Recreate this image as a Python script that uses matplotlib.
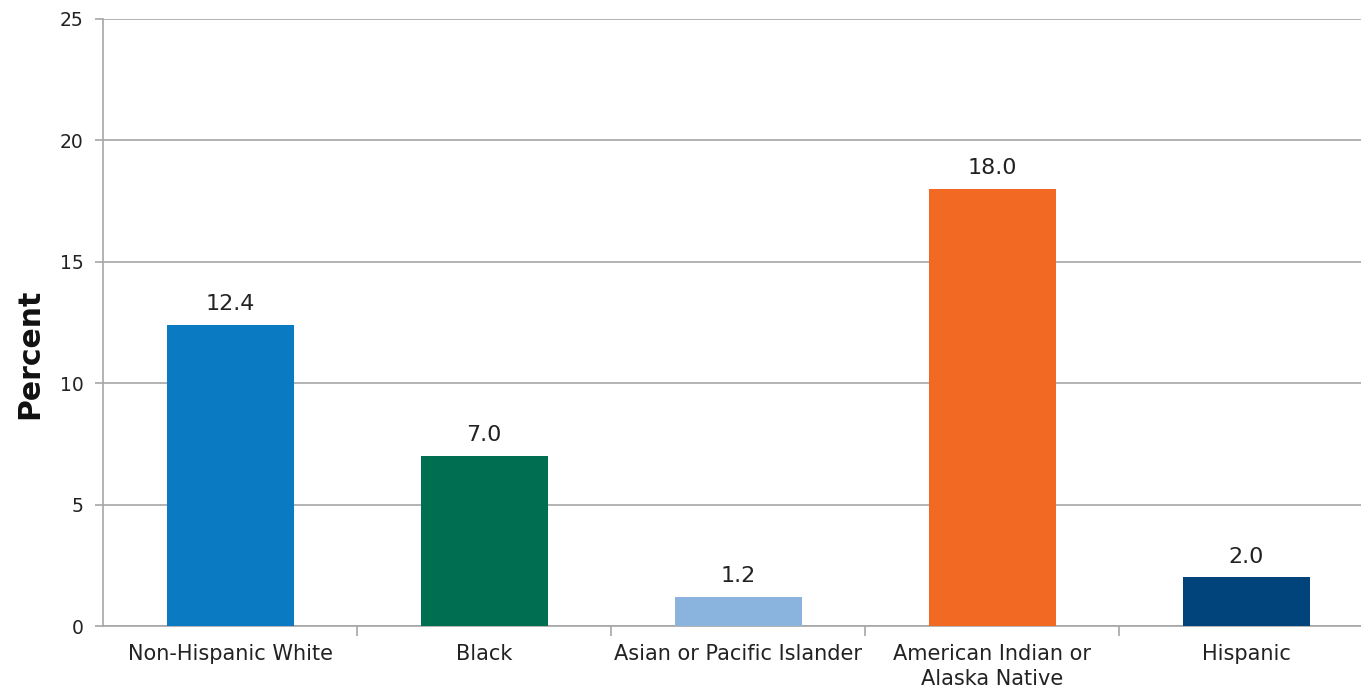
import numpy as np
import matplotlib
matplotlib.use("Agg")
import matplotlib.pyplot as plt

categories = ["Non-Hispanic White", "Black", "Asian or Pacific Islander",
              "American Indian or\nAlaska Native", "Hispanic"]
values = [12.4, 7.0, 1.2, 18.0, 2.0]
colors = ["#0A7BC2", "#006F51", "#8AB3DE", "#F26924", "#00447B"]
y_ticks = [0, 5, 10, 15, 20, 25]

plt.rcParams["font.family"] = ["DejaVu Sans"]

fig = plt.figure(figsize=(13.61, 6.89), dpi=100)
ax = fig.add_axes([103 / 1361, 1 - 626 / 689, 1 - 103 / 1361, (626 - 19) / 689])

x = np.arange(len(categories))
ax.bar(x, values, width=0.5, color=colors, zorder=3)
for xi, v in zip(x, values):
    ax.text(xi, v + 0.45, f"{v:.1f}", ha="center", va="bottom",
            fontsize=16, color="#222222", zorder=4)

ax.set_ylim(0, 25)
ax.set_xlim(-0.5, -0.5 + (1361 - 103) / 254)
ax.set_yticks(y_ticks)
ax.set_yticklabels([str(t) for t in y_ticks], fontsize=13.5, color="#222222")
ax.yaxis.grid(True, color="#A6A6A6", linewidth=1.2, zorder=0)

# category labels centered, ticks at boundaries
ax.set_xticks(x)
ax.set_xticklabels(categories, fontsize=15, color="#222222", linespacing=1.3)
ax.tick_params(axis="x", length=0, pad=13)
ax.set_xticks(np.arange(0.5, len(categories) - 0.5), minor=True)
ax.tick_params(axis="x", which="minor", length=7, color="#A6A6A6", width=1.2)
ax.tick_params(axis="y", length=6, color="#A6A6A6", width=1.2, pad=8)

for side in ["top", "right"]:
    ax.spines[side].set_visible(False)
for side in ["left", "bottom"]:
    ax.spines[side].set_color("#A6A6A6")
    ax.spines[side].set_linewidth(1.2)

fig.text(30 / 1361, 1 - 354 / 689, "Percent", rotation=90, ha="center",
         va="center", fontsize=21.5, fontweight="bold", color="#111111")

fig.savefig("out.png", dpi=100, facecolor="white")
